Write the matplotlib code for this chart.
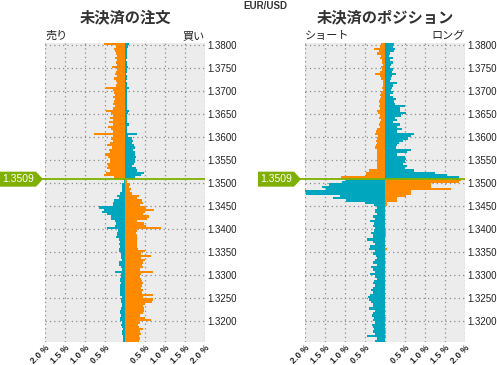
import numpy as np
import matplotlib
matplotlib.use("Agg")
import matplotlib.pyplot as plt
from matplotlib.lines import Line2D
from matplotlib.patches import Polygon

plt.rcParams['font.family'] = ['Liberation Sans', 'Noto Sans CJK JP', 'DejaVu Sans']

# price buckets (bottom edge), 0.0005 wide, top to bottom
levels = np.round(1.3800 - 0.0005 * np.arange(130), 4)
current_price = 1.3509

# open orders (%), left side = sell, right side = buy
orders_sell = [
    0.53, 0.23, 0.27, 0.25, 0.22, 0.20, 0.25, 0.20, 0.22, 0.20,
    0.32, 0.20, 0.22, 0.25, 0.20, 0.28, 0.22, 0.20, 0.22, 0.48,
    0.30, 0.28, 0.25, 0.30, 0.25, 0.28, 0.30, 0.25, 0.30, 0.48,
    0.35, 0.30, 0.38, 0.30, 0.40, 0.30, 0.42, 0.35, 0.30, 0.78,
    0.30, 0.35, 0.30, 0.38, 0.45, 0.32, 0.40, 0.38, 0.50, 0.42,
    0.38, 0.38, 0.45, 0.42, 0.45, 0.38, 0.48, 0.52, 0.28,
    0.02, 0.02, 0.07, 0.07, 0.07, 0.08, 0.12, 0.20, 0.15, 0.28,
    0.30, 0.30, 0.65, 0.52, 0.58, 0.45, 0.35, 0.35, 0.25, 0.22,
    0.25, 0.45, 0.18, 0.20, 0.20, 0.22, 0.15, 0.12, 0.15, 0.12,
    0.15, 0.15, 0.10, 0.10, 0.10, 0.08, 0.15, 0.15, 0.10, 0.08,
    0.25, 0.10, 0.10, 0.12, 0.13, 0.10, 0.12, 0.12, 0.13, 0.12,
    0.12, 0.08, 0.10, 0.10, 0.08, 0.08, 0.10, 0.12, 0.12, 0.10,
    0.12, 0.12, 0.08, 0.10, 0.08, 0.06, 0.07, 0.08, 0.05, 0.05,
    0.05]
orders_buy = [
    0.10, 0.08, 0.06, 0.04, 0.05, 0.04, 0.06, 0.03, 0.05, 0.04,
    0.07, 0.04, 0.05, 0.03, 0.04, 0.05, 0.03, 0.04, 0.05, 0.10,
    0.05, 0.04, 0.06, 0.05, 0.04, 0.05, 0.06, 0.04, 0.05, 0.10,
    0.07, 0.05, 0.04, 0.06, 0.05, 0.10, 0.05, 0.06, 0.05, 0.29,
    0.07, 0.18, 0.20, 0.18, 0.22, 0.25, 0.20, 0.25, 0.24, 0.28,
    0.25, 0.25, 0.22, 0.18, 0.28, 0.30, 0.48, 0.40, 0.25,
    0.06, 0.06, 0.12, 0.10, 0.15, 0.12, 0.18, 0.35, 0.30, 0.42,
    0.45, 0.38, 0.52, 0.72, 0.50, 0.45, 0.60, 0.55, 0.30, 0.48,
    0.52, 0.90, 0.30, 0.28, 0.30, 0.30, 0.30, 0.30, 0.30, 0.30,
    0.32, 0.50, 0.40, 0.66, 0.40, 0.50, 0.45, 0.42, 0.45, 0.38,
    0.70, 0.40, 0.38, 0.40, 0.42, 0.45, 0.42, 0.40, 0.45, 0.42,
    0.70, 0.46, 0.70, 0.68, 0.50, 0.46, 0.48, 0.48, 0.46, 0.38,
    0.50, 0.64, 0.38, 0.32, 0.35, 0.45, 0.38, 0.40, 0.35, 0.38,
    0.36]

# open positions (%), left side = short, right side = long
pos_short = [
    0.11, 0.13, 0.27, 0.15, 0.20, 0.10, 0.12, 0.08, 0.08, 0.06,
    0.10, 0.08, 0.12, 0.25, 0.12, 0.10, 0.05, 0.06, 0.05, 0.08,
    0.06, 0.10, 0.12, 0.10, 0.12, 0.15, 0.12, 0.15, 0.12, 0.20,
    0.18, 0.12, 0.15, 0.10, 0.12, 0.15, 0.12, 0.20, 0.22, 0.25,
    0.18, 0.20, 0.22, 0.20, 0.22, 0.25, 0.20, 0.20, 0.20, 0.20,
    0.20, 0.20, 0.20, 0.20, 0.20, 0.40, 0.47, 0.47, 1.10,
    0.98, 1.07, 1.40, 1.57, 1.47, 2.00, 1.98, 1.13, 1.30, 0.98,
    0.50, 0.27, 0.20, 0.25, 0.25, 0.20, 0.30, 0.25, 0.38, 0.28,
    0.30, 0.25, 0.27, 0.35, 0.30, 0.30, 0.44, 0.30, 0.25, 0.38,
    0.40, 0.25, 0.30, 0.22, 0.20, 0.25, 0.30, 0.20, 0.36, 0.30,
    0.25, 0.38, 0.25, 0.20, 0.28, 0.30, 0.25, 0.30, 0.35, 0.30,
    0.38, 0.42, 0.40, 0.35, 0.30, 0.30, 0.40, 0.25, 0.30, 0.32,
    0.28, 0.30, 0.25, 0.32, 0.30, 0.28, 0.30, 0.25, 0.45, 0.20,
    0.25]
pos_long = [
    0.22, 0.20, 0.24, 0.22, 0.12, 0.10, 0.20, 0.12, 0.20, 0.15,
    0.12, 0.20, 0.18, 0.27, 0.18, 0.15, 0.12, 0.30, 0.20, 0.18,
    0.15, 0.20, 0.12, 0.20, 0.27, 0.22, 0.25, 0.50, 0.38, 0.37,
    0.52, 0.40, 0.25, 0.30, 0.20, 0.38, 0.30, 0.42, 0.30, 0.72,
    0.65, 0.58, 0.45, 0.35, 0.30, 0.28, 0.64, 0.55, 0.30, 0.50,
    0.52, 0.50, 0.45, 0.55, 0.50, 0.72, 1.25, 1.56, 1.85,
    1.90, 1.85, 1.14, 1.14, 1.64, 0.64, 0.64, 0.52, 0.31, 0.31,
    0.04, 0.04, 0.00, 0.00, 0.00, 0.00, 0.00, 0.00, 0.00, 0.00,
    0.00, 0.00, 0.02, 0.02, 0.02, 0.00, 0.00, 0.00, 0.00, 0.00,
    0.04, 0.00, 0.00, 0.00, 0.00, 0.00, 0.02, 0.00, 0.00, 0.00,
    0.00, 0.00, 0.00, 0.00, 0.00, 0.00, 0.00, 0.00, 0.00, 0.00,
    0.00, 0.00, 0.00, 0.00, 0.00, 0.00, 0.00, 0.00, 0.00, 0.00,
    0.02, 0.00, 0.00, 0.02, 0.00, 0.00, 0.02, 0.00, 0.02, 0.00,
    0.00]

xticks = [-2.0, -1.5, -1.0, -0.5, 0.0, 0.5, 1.0, 1.5, 2.0]
xticklabels = ['2.0 %', '1.5 %', '1.0 %', '0.5 %', '', '0.5 %', '1.0 %', '1.5 %', '2.0 %']
yticks = [1.3200, 1.3250, 1.3300, 1.3350, 1.3400, 1.3450, 1.3500,
          1.3550, 1.3600, 1.3650, 1.3700, 1.3750, 1.3800]

ORANGE = '#ff8a00'
TEAL = '#00a6bd'
GREEN = '#7fb000'

W, H = 497, 365
fig = plt.figure(figsize=(W / 100, H / 100), dpi=100)


def panel(x0, left_vals, right_vals, title, lab_l, lab_r):
    ax = fig.add_axes([x0 / W, 23 / H, 160 / W, 299 / H])
    ax.set_facecolor('#ececec')
    for s in ax.spines.values():
        s.set_visible(False)
    above = levels >= current_price
    lcol = [ORANGE if a else TEAL for a in above]
    rcol = [TEAL if a else ORANGE for a in above]
    ax.barh(levels, -np.array(left_vals), height=0.0005, align='edge',
            color=lcol, linewidth=0, zorder=3)
    ax.barh(levels, right_vals, height=0.0005, align='edge',
            color=rcol, linewidth=0, zorder=3)
    ax.set_xlim(-2, 2)
    ax.set_ylim(1.3155, 1.3805)
    ax.set_xticks(xticks)
    ax.set_xticklabels(xticklabels, rotation=45, ha='right',
                       rotation_mode='anchor', fontsize=6.3, fontweight='bold')
    ax.set_yticks(yticks)
    ax.set_yticklabels(['%.4f' % v for v in yticks], fontsize=7)
    ax.yaxis.tick_right()
    ax.tick_params(axis='both', length=0, colors='#222222')
    ax.tick_params(axis='y', pad=2)
    ax.tick_params(axis='x', pad=1)
    ax.grid(True, color='#8c8c8c', linestyle=(0, (1, 2.5)), linewidth=0.9, zorder=1)
    ax.set_axisbelow(True)
    ax.axhline(current_price, color=GREEN, linewidth=1.3, zorder=4)

    xc = (x0 + 80) / W
    fig.text(xc, 1 - 18 / H, title, ha='center', va='center',
             fontsize=11, fontweight='bold', color='#333333')
    fig.text(x0 / W, 1 - 36 / H, lab_l, ha='left', va='center', fontsize=8, color='#222222')
    fig.text((x0 + 160) / W, 1 - 36 / H, lab_r, ha='right', va='center', fontsize=8, color='#222222')
    return ax


ax1 = panel(45, orders_sell, orders_buy, '未決済の注文', '売り', '買い')
ax2 = panel(305, pos_short, pos_long, '未決済のポジション', 'ショート', 'ロング')

fig.text(265 / W, 1 - 6 / H, 'EUR/USD', ha='center', va='center',
         fontsize=7, fontweight='bold', color='#333333')

# price badges
fig.canvas.draw()
for ax, bx in [(ax1, 0), (ax2, 258)]:
    py = ax.transData.transform((0, current_price))[1]
    yf = py / H
    x_left = ax.get_position().x0
    fig.add_artist(Line2D([(bx + 40) / W, x_left], [yf, yf], color=GREEN,
                          linewidth=1.3, transform=fig.transFigure))
    hh = 7.5 / H
    pts = [(bx / W, yf - hh), ((bx + 36) / W, yf - hh), ((bx + 43) / W, yf),
           ((bx + 36) / W, yf + hh), (bx / W, yf + hh)]
    fig.add_artist(Polygon(pts, closed=True, facecolor=GREEN, edgecolor='none',
                           transform=fig.transFigure))
    fig.text((bx + 18) / W, yf, '%.4f' % current_price, ha='center', va='center',
             fontsize=7.5, color='white')

fig.savefig('out.png', dpi=100)
